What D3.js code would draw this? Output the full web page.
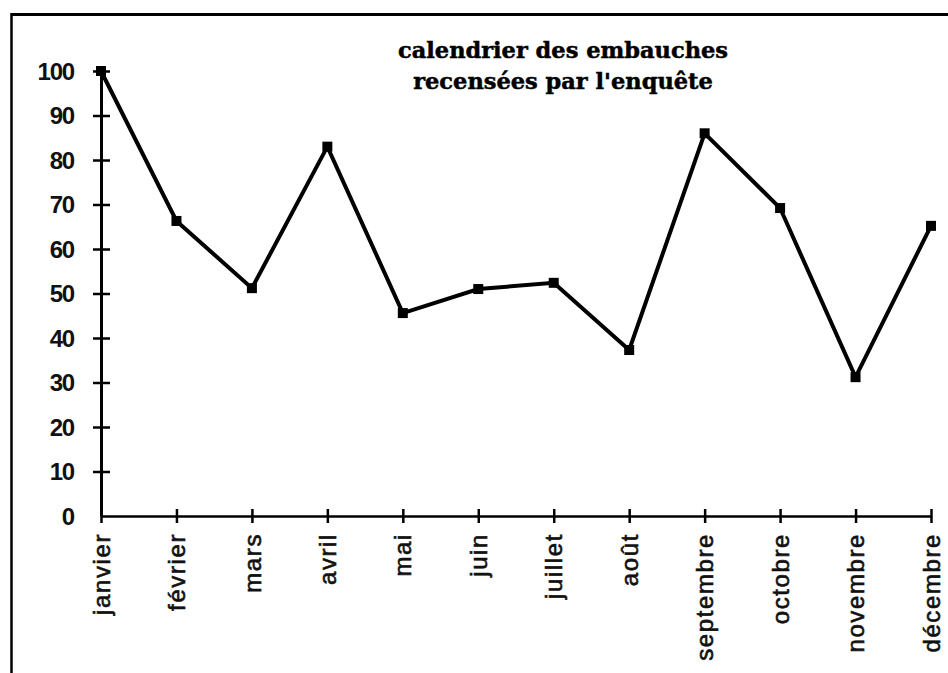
<!DOCTYPE html>
<html><head><meta charset="utf-8">
<script src="https://cdn.jsdelivr.net/npm/d3@7"></script>
<style>html,body{margin:0;padding:0;background:#fff;}</style>
</head><body>
<svg id="chart" width="948" height="673"></svg>
<script>
const months = ["janvier","février","mars","avril","mai","juin","juillet","août","septembre","octobre","novembre","décembre"];
const values = [100, 66.3, 51.2, 83, 45.6, 51, 52.4, 37.3, 86, 69.2, 31.2, 65.2];
const yTicks = [0,10,20,30,40,50,60,70,80,90,100];
const titleLines = ["calendrier des embauches","recensées par l'enquête"];

const svg = d3.select("#chart");

// frame
svg.append("line").attr("x1",11).attr("y1",14.5).attr("x2",948).attr("y2",14.5).attr("stroke","#000").attr("stroke-width",3);
svg.append("line").attr("x1",11.5).attr("y1",13).attr("x2",11.5).attr("y2",673).attr("stroke","#000").attr("stroke-width",2.5);

const x = d3.scalePoint().domain(months).range([101, 931]);
const y = d3.scaleLinear().domain([0,100]).range([516, 71]);

// y axis
const yAxis = d3.axisLeft(y).tickValues(yTicks.filter(d=>d>0)).tickSize(0).tickFormat("");
const gy = svg.append("g").attr("transform","translate(101,0)").call(yAxis);
gy.select(".domain").attr("stroke","#000").attr("stroke-width",3);
gy.selectAll(".tick").append("line").attr("x1",-8).attr("x2",9).attr("stroke","#000").attr("stroke-width",2.5);

svg.append("g").selectAll("text").data(yTicks).join("text")
  .attr("x",74).attr("y",d=>y(d)).attr("dy","0.36em")
  .attr("text-anchor","end")
  .attr("font-family","Liberation Sans, Arial, sans-serif").attr("font-weight","bold")
  .attr("font-size",24).attr("letter-spacing",-1.2).attr("fill","#111")
  .text(d=>d);

// x axis
const xAxis = d3.axisBottom(x).tickSize(0).tickFormat("");
const gx = svg.append("g").attr("transform","translate(0,516)").call(xAxis);
gx.select(".domain").attr("stroke","#000").attr("stroke-width",2.5);
gx.selectAll(".tick").append("line").attr("y1",-7).attr("y2",7).attr("stroke","#000").attr("stroke-width",2.5);

svg.append("g").selectAll("text").data(months).join("text")
  .attr("transform",d=>`translate(${x(d)},533) rotate(-90)`)
  .attr("text-anchor","end").attr("dy","0.36em")
  .attr("font-family","Liberation Sans, Arial, sans-serif")
  .attr("font-size",24).attr("letter-spacing",1.6).attr("fill","#111")
  .attr("stroke","#111").attr("stroke-width",0.6)
  .text(d=>d);

// line
const line = d3.line().x((d,i)=>x(months[i])).y(d=>y(d));
svg.append("path").datum(values).attr("d",line)
  .attr("fill","none").attr("stroke","#000").attr("stroke-width",4).attr("stroke-linejoin","miter");

svg.append("g").selectAll("rect").data(values).join("rect")
  .attr("x",(d,i)=>x(months[i])-5).attr("y",d=>y(d)-5)
  .attr("width",10).attr("height",10).attr("fill","#000");

// title
svg.append("g").selectAll("text").data(titleLines).join("text")
  .attr("x",563).attr("y",(d,i)=>58+i*31)
  .attr("text-anchor","middle")
  .attr("font-family","DejaVu Serif, serif").attr("font-weight","bold")
  .attr("font-size",22.5).attr("fill","#000").attr("stroke","#000").attr("stroke-width",0.5)
  .text(d=>d);
</script>
</body></html>
